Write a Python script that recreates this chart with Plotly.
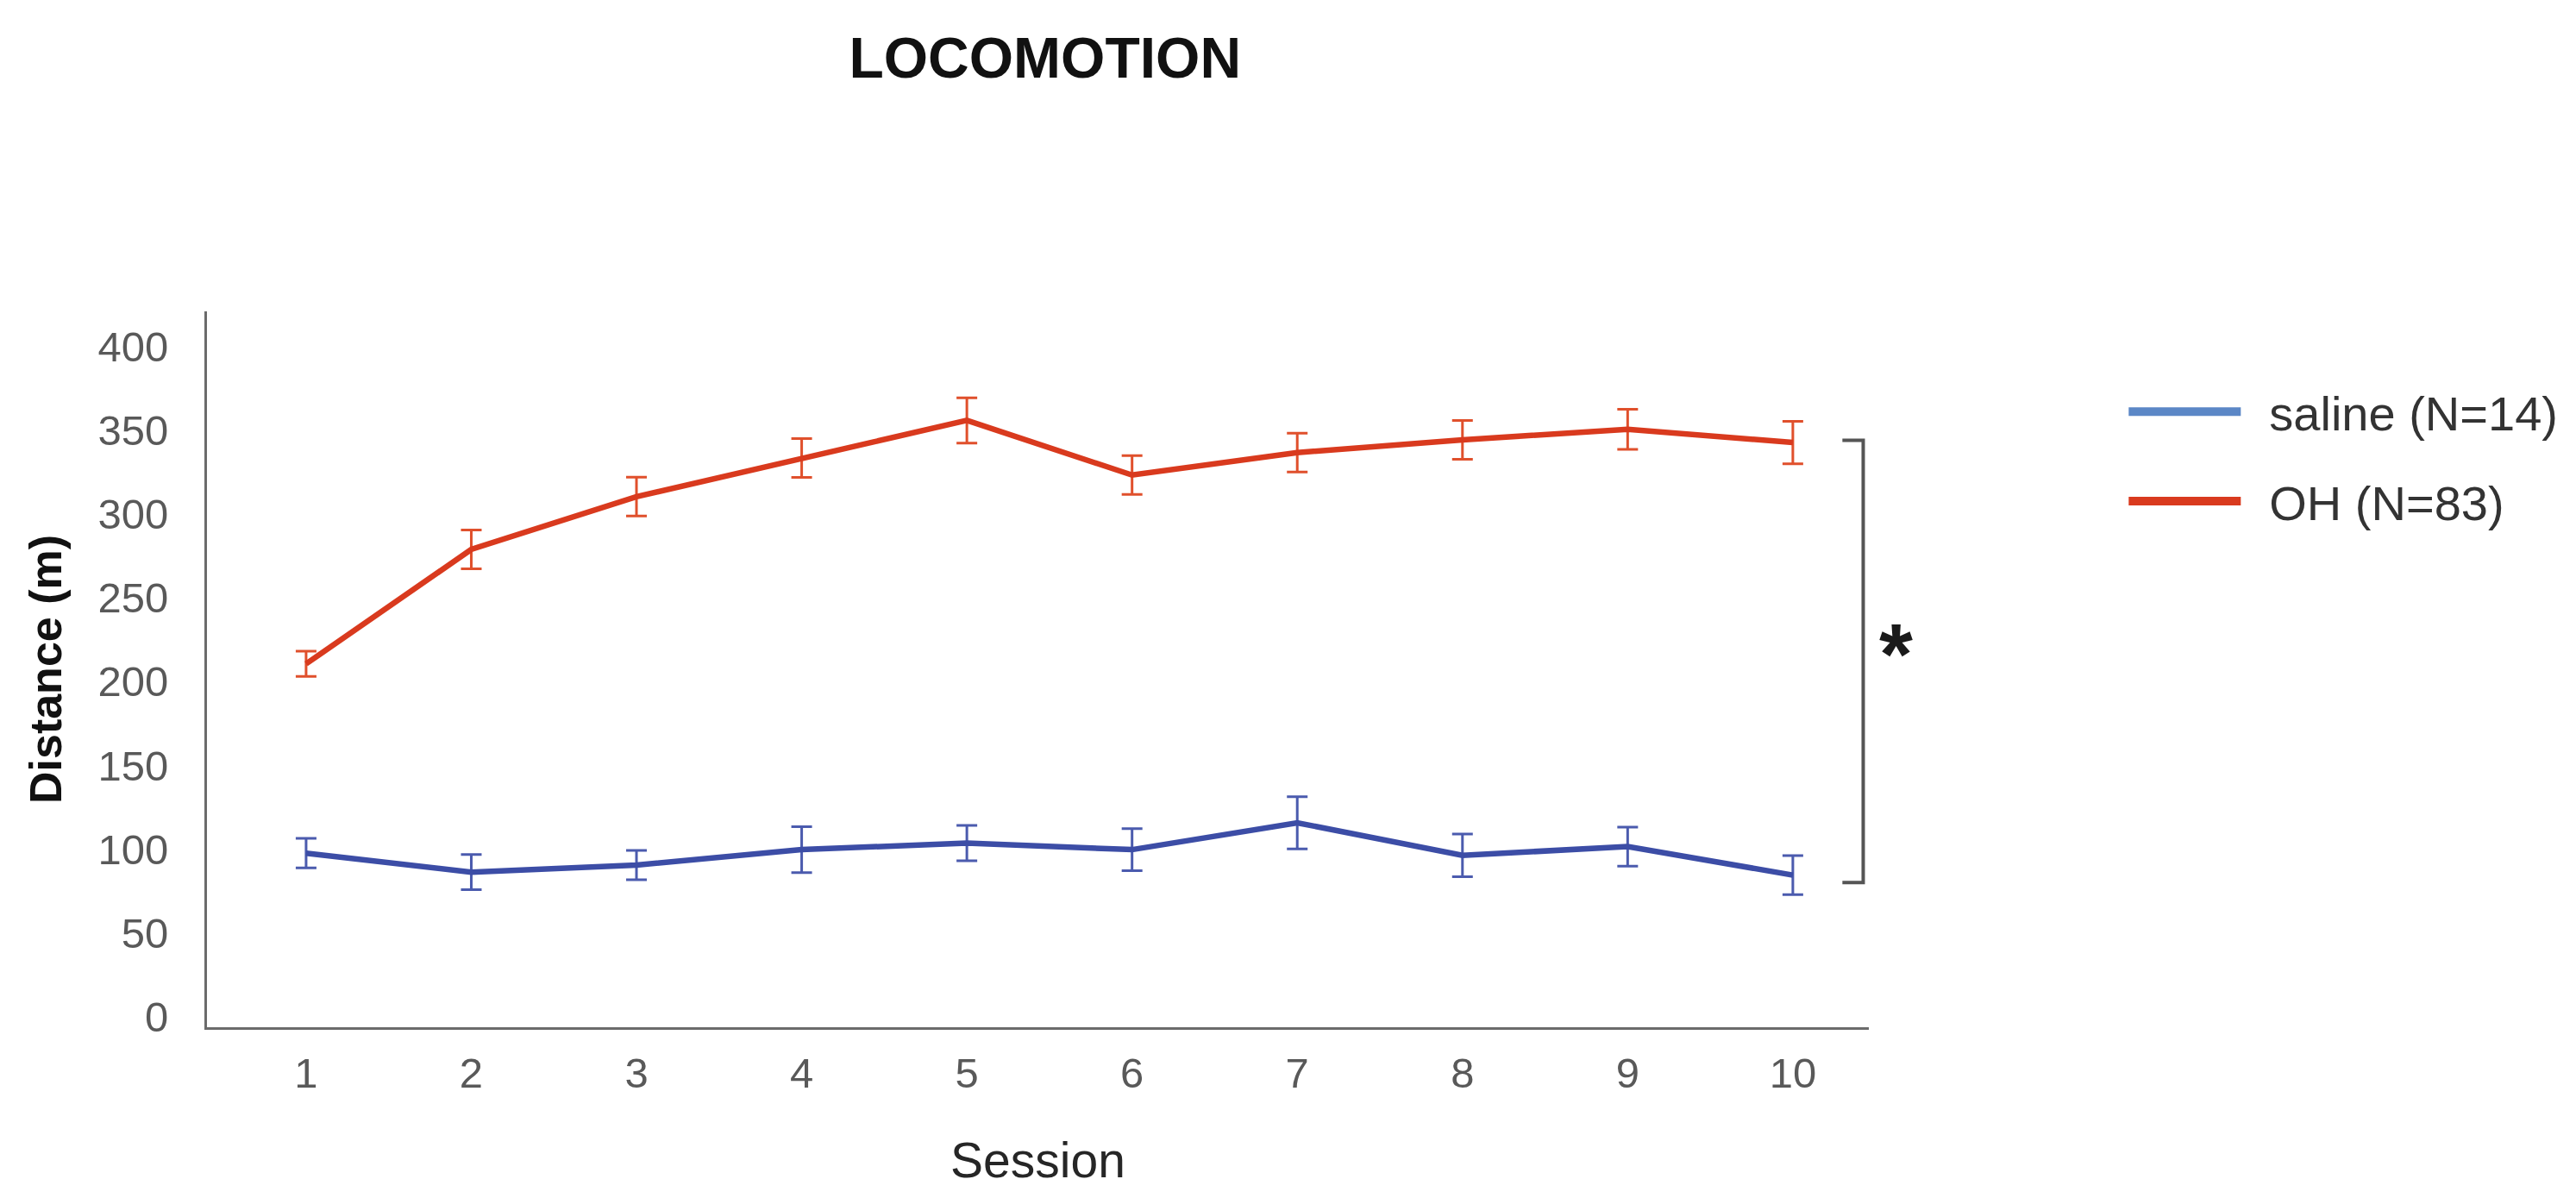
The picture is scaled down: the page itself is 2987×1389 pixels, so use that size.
import plotly.graph_objects as go

# ---- data ----
sessions = [1, 2, 3, 4, 5, 6, 7, 8, 9, 10]
saline_mean = [97.6, 86.3, 90.5, 99.7, 103.6, 99.7, 115.7, 96.3, 101.5, 84.5]
saline_sem = [8.8, 10.5, 8.8, 13.7, 10.6, 12.6, 15.6, 12.7, 11.6, 11.6]
oh_mean = [210.6, 278.9, 310.4, 333.5, 355.9, 323.3, 336.7, 344.3, 350.6, 342.7]
oh_sem = [7.5, 11.6, 11.6, 11.6, 13.5, 11.6, 11.6, 11.6, 12.0, 12.7]
y_ticks = [0, 50, 100, 150, 200, 250, 300, 350, 400]
series_names = ["saline (N=14)", "OH (N=83)"]
bracket_top = 344
bracket_bottom = 80

FONT = "Liberation Sans, Arial, sans-serif"
BLUE_LINE = "#3C4DA6"
BLUE_ERR = "#4B5BAE"
RED_LINE = "#D93A1E"
RED_ERR = "#E0502C"
BLUE_LEG = "#5B87C6"
RED_LEG = "#D93A1E"
AXIS_GRAY = "#6B6B6B"

fig = go.Figure()

fig.add_trace(go.Scatter(
    x=sessions, y=saline_mean, mode="lines",
    line=dict(color=BLUE_LINE, width=6.5),
    error_y=dict(type="data", array=saline_sem, color=BLUE_ERR, thickness=3, width=12),
    showlegend=False, name=series_names[0]))
fig.add_trace(go.Scatter(
    x=sessions, y=oh_mean, mode="lines",
    line=dict(color=RED_LINE, width=6.5),
    error_y=dict(type="data", array=oh_sem, color=RED_ERR, thickness=3, width=12),
    showlegend=False, name=series_names[1]))

# legend swatches (the reference legend uses lighter tones)
fig.add_trace(go.Scatter(x=[None], y=[None], mode="lines",
                         line=dict(color=BLUE_LEG, width=14),
                         name="\u2002" + series_names[0], legendgroup="a"))
fig.add_trace(go.Scatter(x=[None], y=[None], mode="lines",
                         line=dict(color=RED_LEG, width=14),
                         name="\u2002" + series_names[1], legendgroup="b"))

# significance bracket
fig.add_shape(type="path", xref="x", yref="y",
              path=f"M 10.30,{bracket_top} L 10.426,{bracket_top} "
                   f"L 10.426,{bracket_bottom} L 10.30,{bracket_bottom}",
              line=dict(color="#555555", width=4))
fig.add_annotation(x=1.0166, y=((bracket_top + bracket_bottom) / 2 + 6.3) / 427.3,
                   xref="paper", yref="paper", xanchor="center", yanchor="middle",
                   text="<b>*</b>", showarrow=False,
                   font=dict(family=FONT, size=100, color="#1a1a1a"),
                   yshift=9)

fig.update_layout(
    width=2987, height=1389,
    margin=dict(l=232, r=828, t=353, b=206, autoexpand=False),
    paper_bgcolor="white", plot_bgcolor="white",
    font=dict(family=FONT, color="#595959"),
    title=dict(text="<b>LOCOMOTION</b>", x=0.403, xref="container", xanchor="center",
               y=0.9575, yref="container", yanchor="middle",
               font=dict(family=FONT, size=66, color="#111111")),
    legend=dict(x=0.822, xref="container", xanchor="left",
                y=0.693, yref="container", yanchor="top",
                font=dict(family=FONT, size=56, color="#333333"),
                itemwidth=130, traceorder="grouped", tracegroupgap=28,
                bgcolor="rgba(0,0,0,0)"),
    xaxis=dict(range=[0.4, 10.46], tickvals=sessions, ticktext=[str(s) for s in sessions],
               showline=True, linecolor=AXIS_GRAY, linewidth=3,
               showgrid=False, zeroline=False,
               ticks="outside", ticklen=8, tickcolor="rgba(0,0,0,0)",
               tickfont=dict(family=FONT, size=49, color="#595959"),
               title=dict(text="Session", standoff=56,
                          font=dict(family=FONT, size=57, color="#262626"))),
    yaxis=dict(range=[-6.3, 421], tickvals=y_ticks,
               showline=True, linecolor=AXIS_GRAY, linewidth=3,
               showgrid=False, zeroline=False,
               ticks="outside", ticklen=32, tickcolor="rgba(0,0,0,0)",
               tickfont=dict(family=FONT, size=49, color="#595959"),
               title=dict(text="<b>Distance (m)</b>", standoff=26,
                          font=dict(family=FONT, size=52, color="#111111"))),
)

fig.write_html("out.html")
